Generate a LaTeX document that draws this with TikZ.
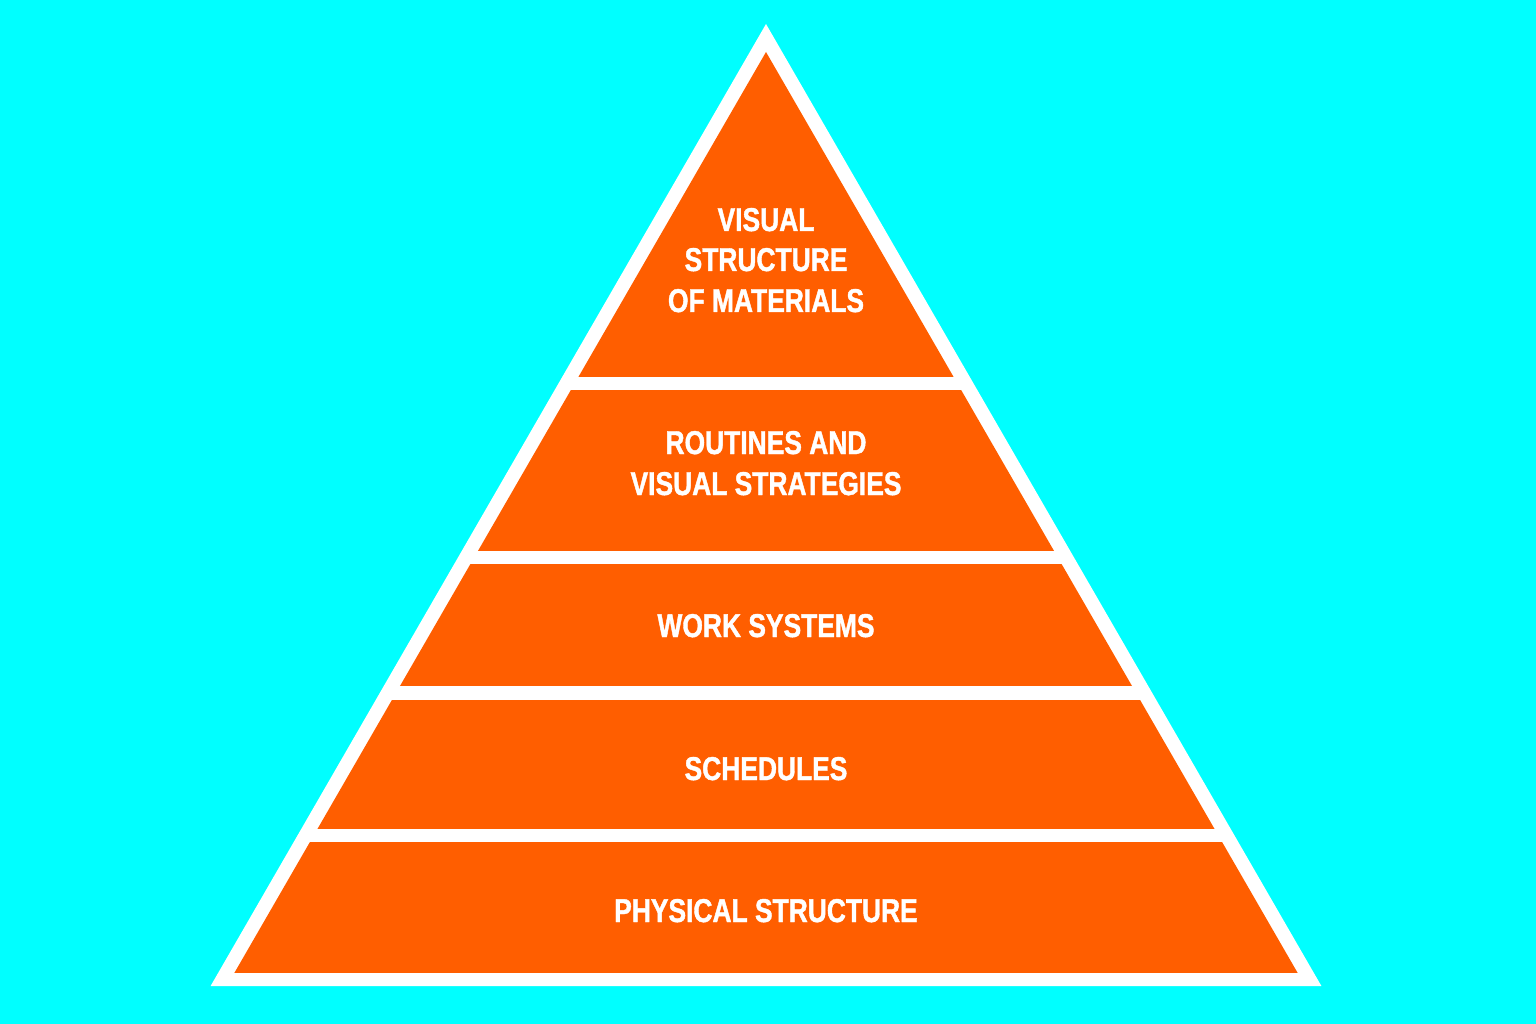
\documentclass[tikz,border=0pt]{standalone}
\usepackage{fontspec}
\newfontfamily\labelfont[FakeStretch=0.8,BoldFeatures={FakeBold=1.2}]{Liberation Sans}
\definecolor{bgcyan}{RGB}{0,255,255}
\definecolor{pyrorange}{RGB}{255,94,0}
\begin{document}
\begin{tikzpicture}[x=1pt,y=-1pt,
  lbl/.style={anchor=base,inner sep=0pt,text=white,font=\labelfont\bfseries\fontsize{33}{40}\selectfont},
  band/.style={fill=pyrorange}]
\fill[bgcyan] (0,0) rectangle (1536,1024);
\useasboundingbox (0,0) rectangle (1536,1024);
% outer white triangle
\fill[white] (766,24) -- (1321.4,986) -- (210.6,986) -- cycle;
% orange bands clipped to inner triangle
\begin{scope}
  \clip (766,52) -- (1297.7,973) -- (234.3,973) -- cycle;
  \fill[band] (0,40) rectangle (1536,377);
  \fill[band] (0,390) rectangle (1536,551);
  \fill[band] (0,564) rectangle (1536,686);
  \fill[band] (0,700) rectangle (1536,829);
  \fill[band] (0,842) rectangle (1536,973);
\end{scope}
% labels
\node[lbl] (t1) at (766,231) {VISUAL};
\node[lbl] (t2) at (766,271) {STRUCTURE};
\node[lbl] (t3) at (766,312) {OF MATERIALS};
\node[lbl] (r1) at (766,454) {ROUTINES AND};
\node[lbl] (r2) at (766,495) {VISUAL STRATEGIES};
\node[lbl] (w1) at (766,637) {WORK SYSTEMS};
\node[lbl] (s1) at (766,780) {SCHEDULES};
\node[lbl] (p1) at (766,922) {PHYSICAL STRUCTURE};
\end{tikzpicture}
\end{document}
